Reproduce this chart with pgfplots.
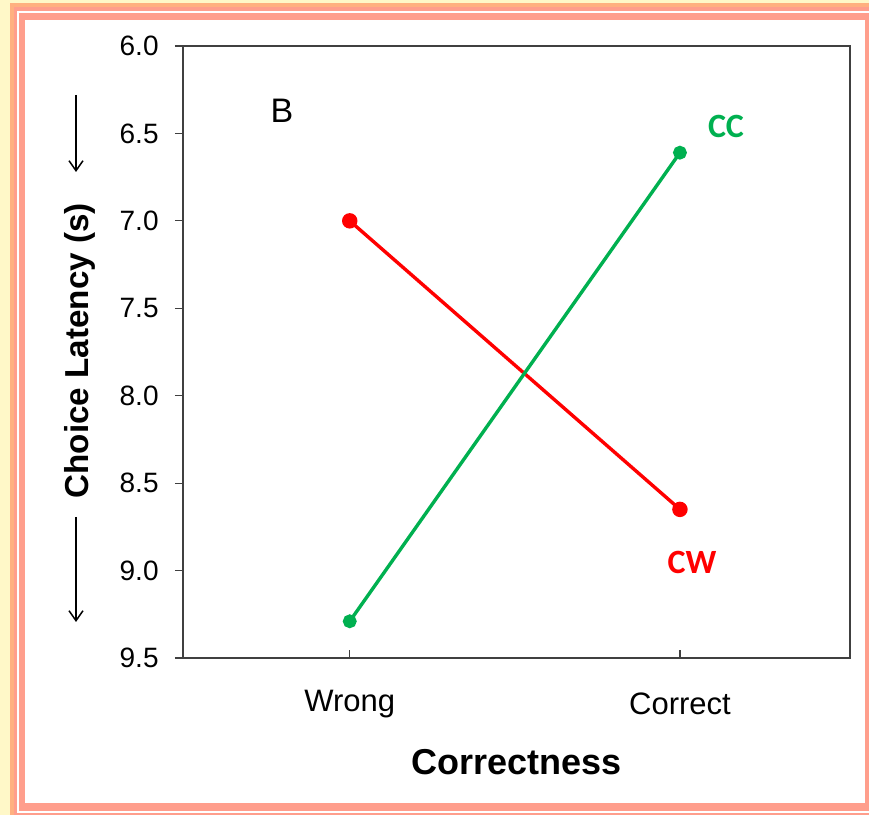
\documentclass[border=0pt]{standalone}
\usepackage{pgfplots}
\pgfplotsset{compat=1.18}
\usepackage{fontspec}
\setmainfont{Liberation Sans}
\newfontfamily\calibri{Carlito}
\usetikzlibrary{arrows.meta}
\definecolor{bgyellow}{HTML}{FFF8C8}
\definecolor{salmon}{HTML}{FF9E8C}
\definecolor{salmonout}{HTML}{FFB080}
\definecolor{exgreen}{HTML}{00B050}
\definecolor{exred}{HTML}{FF0000}
\definecolor{axgray}{HTML}{404040}
\begin{document}
\begin{tikzpicture}
\begin{scope}[x=0.5pt,y=0.5pt]
\useasboundingbox (0,0) rectangle (869,815);
\clip (0,0) rectangle (869,815);
\fill[bgyellow] (0,0) rectangle (869,815);
\fill[salmonout] (10,-5) rectangle (880,812);
\fill[salmon] (14,-5) rectangle (880,808);
\draw[white,line width=0.8pt] (18,3) rectangle (870,803);
\fill[white] (25,12) rectangle (865,795);
\end{scope}
\begin{axis}[
  at={(91.5pt,78.5pt)}, anchor=south west,
  scale only axis, width=333.5pt, height=306pt,
  xmin=-0.505, xmax=1.515, ymin=6, ymax=9.5, y dir=reverse,
  xtick={0,1}, xticklabels={Wrong,Correct},
  ytick={6,6.5,7,7.5,8,8.5,9,9.5},
  yticklabel style={/pgf/number format/fixed,/pgf/number format/fixed zerofill,/pgf/number format/precision=1,
    /pgf/number format/assume math mode=true, font=\fontsize{14}{16}\selectfont, anchor=east, inner sep=0pt, xshift=-8pt},
  xticklabel style={font=\fontsize{15.5}{18}\selectfont, anchor=center, yshift=-23pt},
  xtick align=inside, ytick align=outside,
  xtick pos=bottom, ytick pos=left,
  major tick length=4pt,
  tick style={axgray, line width=0.6pt},
  axis line style={axgray, line width=1pt},
  xlabel={\bfseries Correctness},
  ylabel={\bfseries Choice Latency (s)},
  xlabel style={font=\fontsize{18}{20}\selectfont, at={(axis description cs:0.5,-0.17)}, anchor=center},
  ylabel style={font=\fontsize{16.6}{20}\selectfont, at={(axis description cs:-0.154,0.502)}, anchor=center},
  clip=false,
]
\addplot[exred, line width=1.7pt, mark=*, mark size=3pt, mark options={solid}] coordinates {(0,7.0) (1,8.65)};
\addplot[exgreen, line width=1.7pt, mark=*, mark size=2.6pt, mark options={solid}] coordinates {(0,9.29) (1,6.61)};
\end{axis}
\begin{scope}[x=0.5pt,y=0.5pt]
\node[font=\fontsize{17}{20}\selectfont] at (282,704) {B};
\node[font=\calibri\bfseries\fontsize{17}{20}\selectfont, text=exgreen] at (726,689) {CC};
\node[font=\calibri\bfseries\fontsize{17}{20}\selectfont, text=exred] at (692,253) {CW};
\draw[line width=0.75pt, -{Straight Barb[length=5pt,width=7pt]}] (76,720) -- (76,643);
\draw[line width=0.75pt, -{Straight Barb[length=5pt,width=7pt]}] (76,298) -- (76,193);
\end{scope}
\end{tikzpicture}
\end{document}
